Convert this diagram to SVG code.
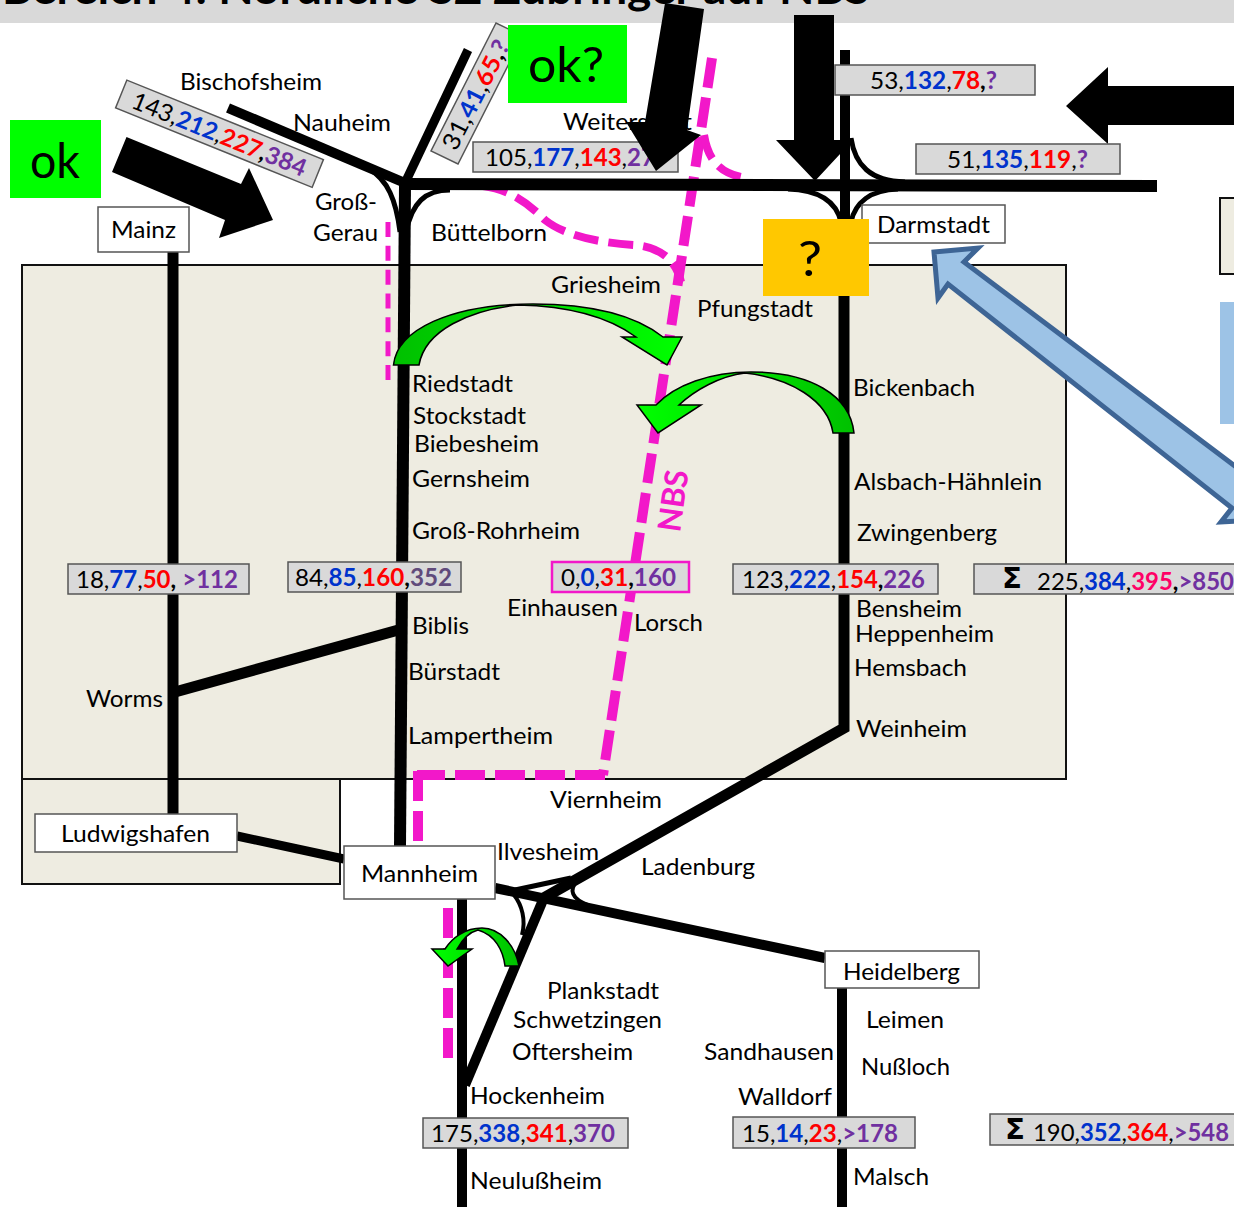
<svg xmlns="http://www.w3.org/2000/svg" width="1234" height="1207" viewBox="0 0 1234 1207">
<style>
text{font-family:Lato,"Liberation Sans",sans-serif;font-size:24px;fill:#000;}
.b{font-weight:700}.bl{fill:#0033cc;font-weight:700}.r{fill:#ff0000;font-weight:700}.p{fill:#7030a0;font-weight:700}.k{fill:#ff0066;font-weight:700}.g{fill:#604a7b;font-weight:700}
.cnt{fill:#d9d9d9;stroke:#555;stroke-width:1.5}
.area{fill:#eeece1;stroke:#111;stroke-width:2}
.node{fill:#fff;stroke:#555;stroke-width:1.5}
.tk{fill:none;stroke:#000}
.nbs{fill:none;stroke:#f218c9;stroke-width:10;stroke-dasharray:30 10}
.arr{fill:#000}
.big{font-size:48px}
</style>
<defs>
<linearGradient id="g1" gradientUnits="userSpaceOnUse" x1="393" x2="682" y1="0" y2="0"><stop offset="0" stop-color="#00c000"/><stop offset="1" stop-color="#00ff00"/></linearGradient>
<linearGradient id="g2" gradientUnits="userSpaceOnUse" x1="854" x2="637" y1="0" y2="0"><stop offset="0" stop-color="#00c000"/><stop offset="1" stop-color="#00ff00"/></linearGradient>
<linearGradient id="g3" gradientUnits="userSpaceOnUse" x1="519" x2="432" y1="0" y2="0"><stop offset="0" stop-color="#00c000"/><stop offset="1" stop-color="#00ff00"/></linearGradient>
</defs>
<rect x="0" y="0" width="1234" height="23" fill="#d9d9d9"/>
<text x="2" y="4" class="b" style="font-size:44px" textLength="868" lengthAdjust="spacingAndGlyphs">Bereich 4: Nördliche SZ Zubringer auf NBS</text>
<g id="areas">
<rect class="area" x="22" y="265" width="1044" height="514"/>
<rect class="area" x="22" y="779" width="318" height="105"/>
<rect class="area" x="1220" y="198" width="20" height="76"/>
<rect x="1220" y="302" width="20" height="122" fill="#9dc3e6"/>
</g>
<g id="connectors">
<g id="nbs-lines">
<path class="nbs" d="M712,58L603,775"/>
<path class="nbs" d="M605,775H417"/>
<path class="nbs" d="M418,771V844"/>
<path class="nbs" d="M448,908V1058"/>
<path d="M388,222V380" fill="none" stroke="#f218c9" stroke-width="5" stroke-dasharray="15 8.83"/>
<path d="M483,186C510,189 530,205 545,220C565,236 600,243 635,245C660,247 676,260 681,282" fill="none" stroke="#f218c9" stroke-width="8" stroke-dasharray="25 10"/>
<path d="M704,135C708,160 720,174 746,178" fill="none" stroke="#f218c9" stroke-width="8" stroke-dasharray="25 10"/>
</g>
<path class="tk" stroke-width="11" d="M173,252V815"/>
<path class="tk" stroke-width="12" d="M405,185L400,846"/>
<path class="tk" stroke-width="11" d="M175,692L402,629"/>
<path class="tk" stroke-width="9" d="M237,836L344,859"/>
<path class="tk" stroke-width="10" d="M228,108L405,183"/>
<path class="tk" stroke-width="5" d="M368,168C388,180 396,200 400,232"/>
<path class="tk" stroke-width="9" d="M468,50L405,183"/>
<path class="tk" stroke-width="5" d="M450,190C425,190 412,203 406,232"/>
<path class="tk" stroke-width="12" d="M403,184L1157,186"/>
<path class="tk" stroke-width="10" d="M845,50V225"/>
<path class="tk" stroke-width="11" d="M844,290V728L540,900"/>
<path class="tk" stroke-width="5" d="M788,189C818,190 836,200 841,222"/>
<path class="tk" stroke-width="5" d="M851,222C855,203 870,190 898,189"/>
<path class="tk" stroke-width="5" d="M851,138C855,165 870,181 905,182"/>
<path class="tk" stroke-width="10" d="M543,900L465,1085"/>
<path class="tk" stroke-width="10" d="M462,890V1207"/>
<path class="tk" stroke-width="10" d="M495,888L825,958"/>
<path class="tk" stroke-width="10" d="M842,985V1207"/>
<path class="tk" stroke-width="5" d="M515,890L571,878"/>
<path class="tk" stroke-width="4" d="M578,880C568,890 572,899 588,905"/>
<path class="tk" stroke-width="4" d="M514,895C522,905 526,920 522,935"/>
</g>
<g id="arrow-ok"><polygon class="arr" points="126.5,137 241,184 249,168 273,220 219,238 225,220 112,172"/></g>
<g id="arrow-down"><polygon class="arr" points="794,15 834,15 834,140 853,140 815,181 776,140 794,140"/></g>
<g id="arrow-left"><polygon class="arr" points="1066,106 1108,67 1108,86 1240,86 1240,125 1108,125 1108,144"/></g>
<g id="arrow-blue"><polygon fill="#9dc3e6" stroke="#3e6595" stroke-width="5" points="934,252 978,248 964,262 1240,470 1240,521 1221,522 1232,508 948,284 938,298"/></g>
<g id="green-arrows">
<path fill="url(#g1)" stroke="#000" stroke-width="1.5" d="M393.5,365C397,330 450,304 533,304C590,304 635,315 663,337L682,337L667,365L622,337L636,337C610,318 570,306 518,305C470,310 425,330 419,365Z"/>
<path fill="url(#g2)" stroke="#000" stroke-width="1.5" d="M854,433C850,395 810,372 751,372C710,372 675,385 656,405L637,405L658,433L701,405L679,405C695,390 720,376 745,373C790,378 828,400 833,433Z"/>
<path fill="url(#g3)" stroke="#000" stroke-width="1.5" d="M519,966C515,945 500,928 482,928C465,928 452,938 445,949L432,949L448,966L472,949L457,949C462,940 470,932 478,930C495,935 503,950 505,966Z"/>
</g>
<g id="node-mainz"><rect class="node" x="98" y="207" width="91" height="45"/><text x="111" y="238" textLength="65" lengthAdjust="spacingAndGlyphs">Mainz</text></g>
<g id="node-darmstadt"><rect class="node" x="862" y="205" width="143" height="38"/><text x="877" y="233" textLength="113" lengthAdjust="spacingAndGlyphs">Darmstadt</text></g>
<g id="node-ludwigshafen"><rect class="node" x="35" y="814" width="202" height="38"/><text x="61" y="842" textLength="149" lengthAdjust="spacingAndGlyphs">Ludwigshafen</text></g>
<g id="node-mannheim"><rect class="node" x="344" y="846" width="151" height="53"/><text x="361" y="882" textLength="117" lengthAdjust="spacingAndGlyphs">Mannheim</text></g>
<g id="node-heidelberg"><rect class="node" x="825" y="951" width="154" height="37"/><text x="843" y="980" textLength="117" lengthAdjust="spacingAndGlyphs">Heidelberg</text></g>
<g id="labels">
<text x="180" y="90" textLength="142" lengthAdjust="spacingAndGlyphs">Bischofsheim</text>
<text x="293" y="131" textLength="98" lengthAdjust="spacingAndGlyphs">Nauheim</text>
<text x="563" y="130" textLength="129" lengthAdjust="spacingAndGlyphs">Weiterstadt</text>
<text x="315" y="210" textLength="62" lengthAdjust="spacingAndGlyphs">Groß-</text>
<text x="313" y="241" textLength="65" lengthAdjust="spacingAndGlyphs">Gerau</text>
<text x="431" y="241" textLength="116" lengthAdjust="spacingAndGlyphs">Büttelborn</text>
<text x="551" y="293" textLength="110" lengthAdjust="spacingAndGlyphs">Griesheim</text>
<text x="697" y="317" textLength="116" lengthAdjust="spacingAndGlyphs">Pfungstadt</text>
<text x="412" y="392" textLength="101" lengthAdjust="spacingAndGlyphs">Riedstadt</text>
<text x="413" y="424" textLength="113" lengthAdjust="spacingAndGlyphs">Stockstadt</text>
<text x="414" y="452" textLength="125" lengthAdjust="spacingAndGlyphs">Biebesheim</text>
<text x="412" y="487" textLength="118" lengthAdjust="spacingAndGlyphs">Gernsheim</text>
<text x="412" y="539" textLength="168" lengthAdjust="spacingAndGlyphs">Groß-Rohrheim</text>
<text x="412" y="634" textLength="57" lengthAdjust="spacingAndGlyphs">Biblis</text>
<text x="408" y="680" textLength="92" lengthAdjust="spacingAndGlyphs">Bürstadt</text>
<text x="408" y="744" textLength="145" lengthAdjust="spacingAndGlyphs">Lampertheim</text>
<text x="507" y="616" textLength="111" lengthAdjust="spacingAndGlyphs">Einhausen</text>
<text x="634" y="631" textLength="69" lengthAdjust="spacingAndGlyphs">Lorsch</text>
<text x="853" y="396" textLength="122" lengthAdjust="spacingAndGlyphs">Bickenbach</text>
<text x="854" y="490" textLength="188" lengthAdjust="spacingAndGlyphs">Alsbach-Hähnlein</text>
<text x="857" y="541" textLength="140" lengthAdjust="spacingAndGlyphs">Zwingenberg</text>
<text x="856" y="617" textLength="106" lengthAdjust="spacingAndGlyphs">Bensheim</text>
<text x="855" y="642" textLength="139" lengthAdjust="spacingAndGlyphs">Heppenheim</text>
<text x="854" y="676" textLength="113" lengthAdjust="spacingAndGlyphs">Hemsbach</text>
<text x="856" y="737" textLength="111" lengthAdjust="spacingAndGlyphs">Weinheim</text>
<text x="86" y="707" textLength="77" lengthAdjust="spacingAndGlyphs">Worms</text>
<text x="550" y="808" textLength="112" lengthAdjust="spacingAndGlyphs">Viernheim</text>
<text x="497" y="860" textLength="102" lengthAdjust="spacingAndGlyphs">Ilvesheim</text>
<text x="641" y="875" textLength="114" lengthAdjust="spacingAndGlyphs">Ladenburg</text>
<text x="547" y="999" textLength="112" lengthAdjust="spacingAndGlyphs">Plankstadt</text>
<text x="513" y="1028" textLength="149" lengthAdjust="spacingAndGlyphs">Schwetzingen</text>
<text x="512" y="1060" textLength="121" lengthAdjust="spacingAndGlyphs">Oftersheim</text>
<text x="704" y="1060" textLength="130" lengthAdjust="spacingAndGlyphs">Sandhausen</text>
<text x="866" y="1028" textLength="78" lengthAdjust="spacingAndGlyphs">Leimen</text>
<text x="861" y="1075" textLength="89" lengthAdjust="spacingAndGlyphs">Nußloch</text>
<text x="738" y="1105" textLength="94" lengthAdjust="spacingAndGlyphs">Walldorf</text>
<text x="470" y="1104" textLength="135" lengthAdjust="spacingAndGlyphs">Hockenheim</text>
<text x="470" y="1189" textLength="132" lengthAdjust="spacingAndGlyphs">Neulußheim</text>
<text x="853" y="1185" textLength="76" lengthAdjust="spacingAndGlyphs">Malsch</text>
<text transform="translate(680,533) rotate(-82)" x="0" y="0" class="b" style="font-size:32px;fill:#f218c9" textLength="62" lengthAdjust="spacingAndGlyphs">NBS</text>
</g>
<g id="counts">
<g transform="translate(219.5,133.75) rotate(22)"><rect class="cnt" x="-106" y="-15" width="212" height="30"/><text x="-93" y="9" textLength="186" lengthAdjust="spacingAndGlyphs">143,<tspan class="bl">212</tspan>,<tspan class="r">227</tspan><tspan class="b">,</tspan><tspan class="p">384</tspan></text></g>
<polygon class="cnt" points="496,23 431,151 458,164 523,36"/>
<text transform="translate(456,152) rotate(-63)" x="0" y="0" textLength="120" lengthAdjust="spacingAndGlyphs">31,<tspan class="bl">41</tspan>,<tspan class="r">65</tspan><tspan class="b">,</tspan><tspan class="p">?</tspan></text>
<rect class="cnt" x="473" y="142" width="205" height="30"/><text x="485" y="166" textLength="170" lengthAdjust="spacingAndGlyphs">105,<tspan class="bl">177</tspan>,<tspan class="r">143</tspan>,<tspan class="p">27</tspan></text>
<rect class="cnt" x="835" y="65" width="200" height="30"/><text x="870" y="89" textLength="127" lengthAdjust="spacingAndGlyphs">53,<tspan class="bl">132</tspan>,<tspan class="r">78</tspan><tspan class="b">,</tspan><tspan class="p">?</tspan></text>
<rect class="cnt" x="916" y="144" width="204" height="30"/><text x="947" y="168" textLength="141" lengthAdjust="spacingAndGlyphs">51,<tspan class="bl">135</tspan>,<tspan class="r">119</tspan>,<tspan class="p">?</tspan></text>
<rect class="cnt" x="68" y="564" width="181" height="30"/><text x="76" y="588" textLength="162" lengthAdjust="spacingAndGlyphs">18,<tspan class="bl">77</tspan>,<tspan class="r">50</tspan><tspan class="b">,</tspan> <tspan class="p">&gt;112</tspan></text>
<rect class="cnt" x="288" y="562" width="173" height="30"/><text x="295" y="586" textLength="157" lengthAdjust="spacingAndGlyphs">84,<tspan class="bl">85</tspan>,<tspan class="r">160</tspan><tspan class="b">,</tspan><tspan class="g">352</tspan></text>
<rect x="552" y="562" width="137" height="30" fill="#d9d9d9" stroke="#f218c9" stroke-width="2.5"/><text x="561" y="586" textLength="115" lengthAdjust="spacingAndGlyphs">0,<tspan class="bl">0</tspan>,<tspan class="r">31</tspan><tspan class="b">,</tspan><tspan class="p">160</tspan></text>
<rect class="cnt" x="733" y="564" width="205" height="30"/><text x="742" y="588" textLength="183" lengthAdjust="spacingAndGlyphs">123,<tspan class="bl">222</tspan>,<tspan class="r">154</tspan><tspan class="b">,</tspan><tspan class="p">226</tspan></text>
<rect class="cnt" x="974" y="564" width="270" height="30"/><text x="1002" y="588" class="b" style="font-size:28px;font-family:'DejaVu Sans',sans-serif" textLength="20" lengthAdjust="spacingAndGlyphs">Σ</text><text x="1037" y="590" textLength="197" lengthAdjust="spacingAndGlyphs">225,<tspan class="bl">384</tspan>,<tspan class="k">395</tspan><tspan class="b">,</tspan><tspan class="p">&gt;850</tspan></text>
<rect class="cnt" x="423" y="1118" width="205" height="30"/><text x="431" y="1142" textLength="184" lengthAdjust="spacingAndGlyphs">175,<tspan class="bl">338</tspan>,<tspan class="r">341</tspan>,<tspan class="p">370</tspan></text>
<rect class="cnt" x="733" y="1117" width="182" height="31"/><text x="742" y="1142" textLength="156" lengthAdjust="spacingAndGlyphs">15,<tspan class="bl">14</tspan>,<tspan class="r">23</tspan>,<tspan class="p">&gt;178</tspan></text>
<rect class="cnt" x="990" y="1114" width="254" height="31"/><text x="1005" y="1139" class="b" style="font-size:28px;font-family:'DejaVu Sans',sans-serif" textLength="20" lengthAdjust="spacingAndGlyphs">Σ</text><text x="1033" y="1141" textLength="196" lengthAdjust="spacingAndGlyphs">190,<tspan class="bl">352</tspan>,<tspan class="r">364</tspan>,<tspan class="p">&gt;548</tspan></text>
</g>
<g id="arrow-weiterstadt"><polygon class="arr" points="665,3 704,9 687,130 701,135 656,171 626,122 645,122"/></g>
<g id="flag-ok"><rect x="10" y="120" width="91" height="78" fill="#00ff00"/><text x="30" y="178" class="big" textLength="50" lengthAdjust="spacingAndGlyphs">ok</text></g>
<g id="flag-okq"><rect x="508" y="25" width="119" height="78" fill="#00ff00"/><text x="528" y="82" class="big" textLength="76" lengthAdjust="spacingAndGlyphs">ok?</text></g>
<g id="flag-q"><rect x="763" y="219" width="106" height="77" fill="#ffc800"/><text x="798" y="276" class="big" textLength="24" lengthAdjust="spacingAndGlyphs">?</text></g>
</svg>
